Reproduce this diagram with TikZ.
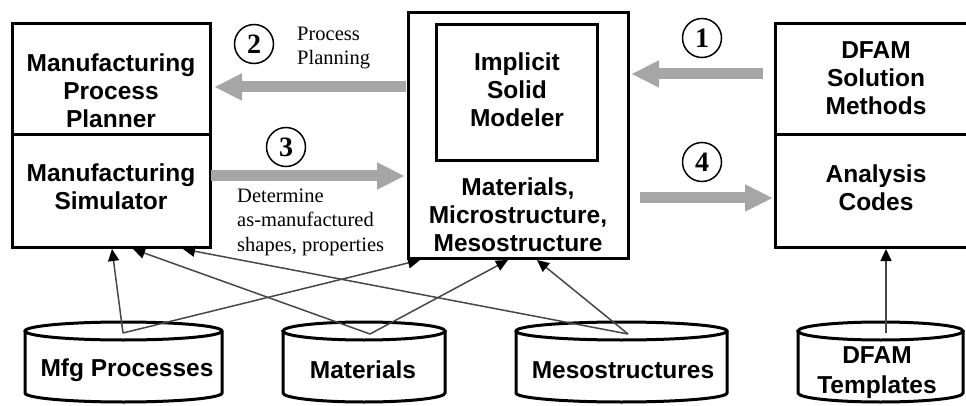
\documentclass[tikz,border=0pt]{standalone}
\usepackage{fontspec}
\setmainfont{Liberation Serif}
\setsansfont{Liberation Sans}
\usetikzlibrary{arrows.meta}
\begin{document}
\begin{tikzpicture}[x=1pt,y=-1pt,
  box/.style={draw, line width=3pt, outer sep=0pt, inner sep=0pt, anchor=north west},
  btext/.style={font=\sffamily\bfseries\fontsize{24.5}{28}\selectfont, align=center, inner sep=0pt},
  stext/.style={font=\fontsize{20.5}{24.5}\selectfont, align=left, inner sep=0pt, anchor=west},
  num/.style={draw, circle, line width=1.5pt, minimum size=39pt, inner sep=0pt, font=\bfseries\fontsize{28}{28}\selectfont},
  bigarrow/.style={draw=black!35, line width=11pt, -{Triangle[length=28pt,width=25pt]}},
  link/.style={draw=black!72, line width=1.5pt, -{Triangle[length=12pt,width=11pt,color=black]}},
  db/.style={line width=3pt},
  dbtext/.style={font=\sffamily\bfseries\fontsize{24.5}{30}\selectfont, align=center, inner sep=0pt}
]
\useasboundingbox (0,0) rectangle (966,406);

% main boxes
\node[box, minimum width=198pt, minimum height=223pt] (lbox) at (12,24) {};
\draw[line width=3pt] (12,135) -- (210,135);
\node[box, minimum width=220pt, minimum height=245pt] (mbox) at (408,13) {};
\node[box, minimum width=161pt, minimum height=136pt] (ibox) at (436,25) {};
\node[box, minimum width=215pt, minimum height=223pt] (rbox) at (775,24) {};
\draw[line width=3pt] (775,135) -- (990,135);

% box texts
\node[btext] (t1) at (111,91) {Manufacturing\\Process\\Planner};
\node[btext] (t2) at (111,187) {Manufacturing\\Simulator};
\node[btext] (t3) at (517,90) {Implicit\\Solid\\Modeler};
\node[btext] (t4) at (518,215) {Materials,\\Microstructure,\\Mesostructure};
\node[btext] (t5) at (876,78) {DFAM\\Solution\\Methods};
\node[btext] (t6) at (876,188) {Analysis\\Codes};

% databases
\foreach \cx/\rx in {123.5/98.5, 364/81, 621.5/105.5, 880.5/82.5}{
  \draw[db, fill=white] (\cx-\rx,331) -- (\cx-\rx,393)
     arc[start angle=180, end angle=360, x radius=\rx pt, y radius=9pt]
     -- (\cx+\rx,331);
  \draw[db] (\cx,331) ellipse [x radius=\rx pt, y radius=9pt];
}
\node[dbtext] (dmfg) at (127,370) {Mfg Processes};
\node[dbtext] (dmat) at (363,370) {Materials};
\node[dbtext] (dmes) at (623,370) {Mesostructures};
\node[dbtext] (ddf) at (877,373) {DFAM\\Templates};

% connector ends
\coordinate (mfgtop) at (123,333);
\coordinate (mattop) at (370,334);
\coordinate (mestop) at (628,334);
\coordinate (dftop) at (886,333);
\coordinate (l1) at (112,249);
\coordinate (l2) at (133,249);
\coordinate (l3) at (183,249);
\coordinate (m1) at (420,260);
\coordinate (m2) at (508,260);
\coordinate (m3) at (537,260);
\coordinate (r1) at (886,249);

\draw[link] (mfgtop) -- (l1);
\draw[link] (mfgtop) -- (m1);
\draw[link] (mattop) -- (l2);
\draw[link] (mattop) -- (m2);
\draw[link] (mestop) -- (l3);
\draw[link] (mestop) -- (m3);
\draw[link] (dftop) -- (r1);

% big gray arrows
\coordinate (a1s) at (763,74);  \coordinate (a1e) at (631,74);
\coordinate (a2s) at (406,87);  \coordinate (a2e) at (214,87);
\coordinate (a3s) at (211,176); \coordinate (a3e) at (405,176);
\coordinate (a4s) at (640,198); \coordinate (a4e) at (773,198);
\draw[bigarrow] (a1s) -- (a1e);
\draw[bigarrow] (a2s) -- (a2e);
\draw[bigarrow] (a3s) -- (a3e);
\draw[bigarrow] (a4s) -- (a4e);

% numbers
\node[num] (n1) at (702,38) {1};
\node[num] (n2) at (254,44) {2};
\node[num] (n3) at (286,147) {3};
\node[num] (n4) at (702,162) {4};

% labels
\node[stext] (pp) at (297,48) {Process\\Planning};
\node[stext] (dt) at (237,222) {Determine\\as-manufactured\\shapes, properties};
\end{tikzpicture}
\end{document}
